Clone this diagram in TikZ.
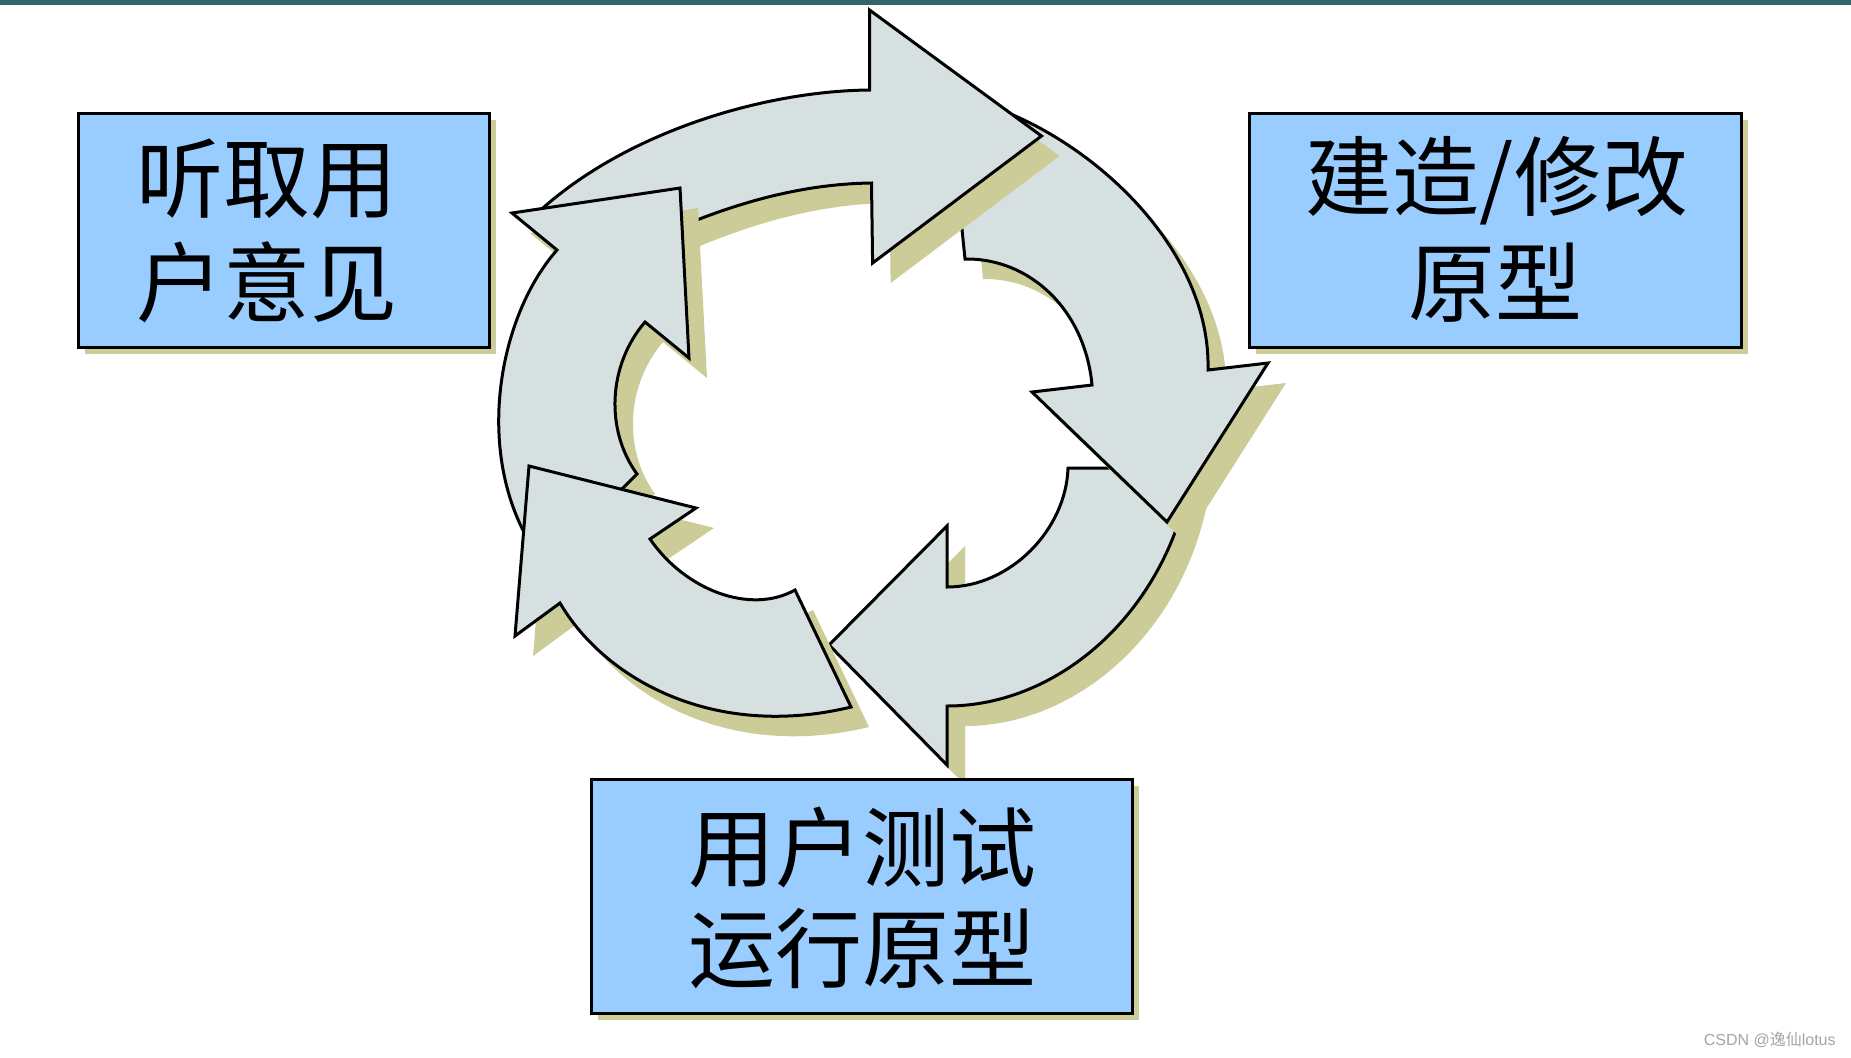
\documentclass[tikz,border=0pt]{standalone}
\usepackage{fontspec}
\newfontfamily\cjk{Noto Sans CJK SC}
\newfontfamily\wmfont{Liberation Sans}
\definecolor{arrowfill}{RGB}{215,224,224}
\definecolor{shadowc}{RGB}{204,204,153}
\definecolor{boxfill}{RGB}{153,204,255}
\definecolor{topline}{RGB}{51,102,102}
\definecolor{wmgray}{RGB}{165,165,165}
\tikzset{
  arrowshape/.style={fill=arrowfill, draw=black, line width=1.5pt, line join=miter},
  arrowshadow/.style={fill=shadowc, shift={(18,20)}},
  boxshape/.style={draw=black, fill=boxfill, line width=1.5pt, inner sep=0pt},
  boxshadow/.style={fill=shadowc, draw=none, inner sep=0pt},
  lbl/.style={font=\cjk\fontsize{43.5pt}{50pt}\selectfont, inner sep=0pt, anchor=center},
}
\newcommand\ArrA[1]{\path[#1] (869.5,90) -- (869.5,10) -- (1041.5,136) -- (872.6,263) -- (871.5,183)
  .. controls (790,184) and (715,210) .. (650,240) -- (528,222)
  .. controls (615,135) and (760,91) .. (869.5,90) -- cycle;}
\newcommand\ArrB[1]{\path[#1] (990,106) .. controls (1095,142) and (1211,250) .. (1208,370)
  -- (1268,363) -- (1167,522) -- (1032,392) -- (1092,385)
  .. controls (1085,310) and (1030,258) .. (965,259) -- (957,180) -- cycle;}
\newcommand\ArrR[1]{\path[#1] (1068,468) -- (1192,468)
  .. controls (1170,610) and (1060,706) .. (947,706) -- (947,765) -- (829,645) -- (947,526) -- (947,587)
  .. controls (1010,587) and (1066,530) .. (1068,468) -- cycle;}
\newcommand\ArrC[1]{\path[#1] (529,466) -- (696,508) -- (650,539)
  .. controls (685,590) and (750,615) .. (795,590) -- (851,707)
  .. controls (715,740) and (605,680) .. (560,603) -- (515,636) -- cycle;}
\newcommand\ArrD[1]{\path[#1] (557,250) -- (512,213) -- (680,188) -- (689,358) -- (645,322)
  .. controls (608,365) and (605,430) .. (637,474) -- (545,565)
  .. controls (470,470) and (495,320) .. (557,250) -- cycle;}
\begin{document}
\begin{tikzpicture}[x=0.5pt,y=-0.5pt]
\useasboundingbox (0,0) rectangle (1851,1057);
\fill[white] (0,0) rectangle (1851,1057);
\fill[topline] (0,0) rectangle (1851,4.5);
% cycle arrows (bottom to top)
\ArrR{arrowshadow}\ArrR{arrowshape}
\ArrB{arrowshadow}\ArrB{arrowshape}
\ArrA{arrowshadow}\ArrA{arrowshape}
\ArrD{arrowshadow}\ArrD{arrowshape}
\ArrC{arrowshadow}\ArrC{arrowshape}
% boxes
\node[boxshadow, minimum width=205.5pt, minimum height=117pt] (s1) at (290.5,237) {};
\node[boxshape, minimum width=205.5pt, minimum height=117pt] (b1) at (283.5,230) {};
\node[boxshadow, minimum width=246pt, minimum height=117pt] (s2) at (1502,237) {};
\node[boxshape, minimum width=246pt, minimum height=117pt] (b2) at (1495,230) {};
\node[boxshadow, minimum width=270.5pt, minimum height=117pt] (s3) at (868.5,903) {};
\node[boxshape, minimum width=270.5pt, minimum height=117pt] (b3) at (861.5,896) {};
% labels
\node[lbl] (t1a) at (267,179) {听取用};
\node[lbl] (t1b) at (267,282) {户意见};
\node[lbl] (t2a) at (1497,181) {建造/修改};
\node[lbl] (t2b) at (1495,283) {原型};
\node[lbl] (t3a) at (862,847) {用户测试};
\node[lbl] (t3b) at (862,949) {运行原型};
% watermark
\node[anchor=east, inner sep=0pt, text=wmgray, font=\fontsize{8pt}{9pt}\selectfont] (wm) at (1836,1040) {\wmfont CSDN @\cjk 逸仙\wmfont lotus};
\end{tikzpicture}
\end{document}
